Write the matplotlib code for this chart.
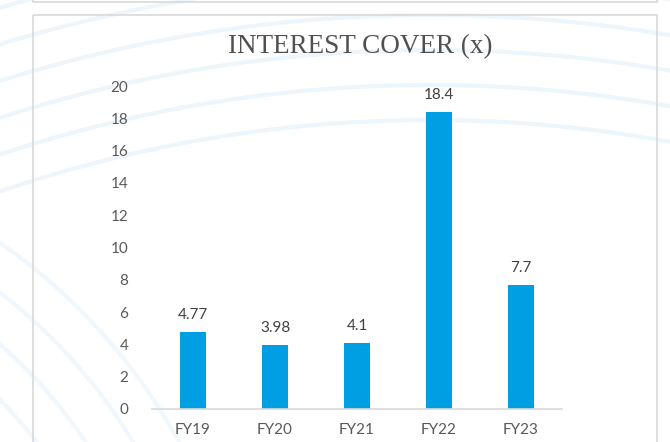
import numpy as np
import matplotlib
matplotlib.use("Agg")
import matplotlib.pyplot as plt
from matplotlib.patches import Rectangle

# Interest cover (x) by fiscal year
years = ['FY19', 'FY20', 'FY21', 'FY22', 'FY23']
cover = [4.77, 3.98, 4.1, 18.4, 7.7]
value_labels = ['4.77', '3.98', '4.1', '18.4', '7.7']

W, H = 670, 442
fig = plt.figure(figsize=(W / 100, H / 100), dpi=100)
fig.patch.set_facecolor('white')

# decorative background: faint arcs and panel borders, in pixel coords
bg = fig.add_axes([0, 0, 1, 1], zorder=0)
bg.set_xlim(0, W)
bg.set_ylim(H, 0)
bg.axis('off')
t = np.linspace(0, 2 * np.pi, 3000)
for r in np.arange(1330, 1900, 35):
    bg.plot(430 + r * np.cos(t), 1450 + r * np.sin(t), color='#edf6fc', lw=3, zorder=0)
for r in np.arange(420, 600, 40):
    bg.plot(-330 + r * np.cos(t), 720 + r * np.sin(t), color='#f1f8fd', lw=3, zorder=0)
bg.add_patch(Rectangle((33, 15), 624, 460, fill=False, ec='#d9d9d9', lw=1.2, zorder=1))
bg.add_patch(Rectangle((33, -50), 624, 52, fill=False, ec='#d9d9d9', lw=1.2, zorder=1))
bg.text(360, 47, 'INTEREST COVER (x)', ha='center', va='center',
        family='Liberation Serif', fontsize=19.5, color='#505050')

ax = fig.add_axes([152 / W, 1 - 409 / H, 410 / W, 323 / H], zorder=2)
ax.patch.set_alpha(0)
x = np.arange(len(years))
bars = ax.bar(x, cover, width=0.32, color='#009FE3')
for xi, v, lab in zip(x, cover, value_labels):
    ax.text(xi, v + 0.6, lab, ha='center', va='bottom', fontsize=11,
            color='#404040', family='Lato')

ax.set_xlim(-0.5, len(years) - 0.5)
ax.set_ylim(0, 20)
ax.set_yticks(range(0, 21, 2))
ax.set_xticks(x)
ax.set_xticklabels(years)
for lab in ax.get_xticklabels() + ax.get_yticklabels():
    lab.set_family('Lato')
    lab.set_fontsize(11)
    lab.set_color('#595959')
ax.tick_params(axis='both', length=0)
ax.tick_params(axis='x', pad=10)
ax.tick_params(axis='y', pad=17)
for s in ['top', 'right', 'left']:
    ax.spines[s].set_visible(False)
ax.spines['bottom'].set_color('#d9d9d9')
ax.spines['bottom'].set_linewidth(1.2)

fig.savefig('out.png', dpi=100)
